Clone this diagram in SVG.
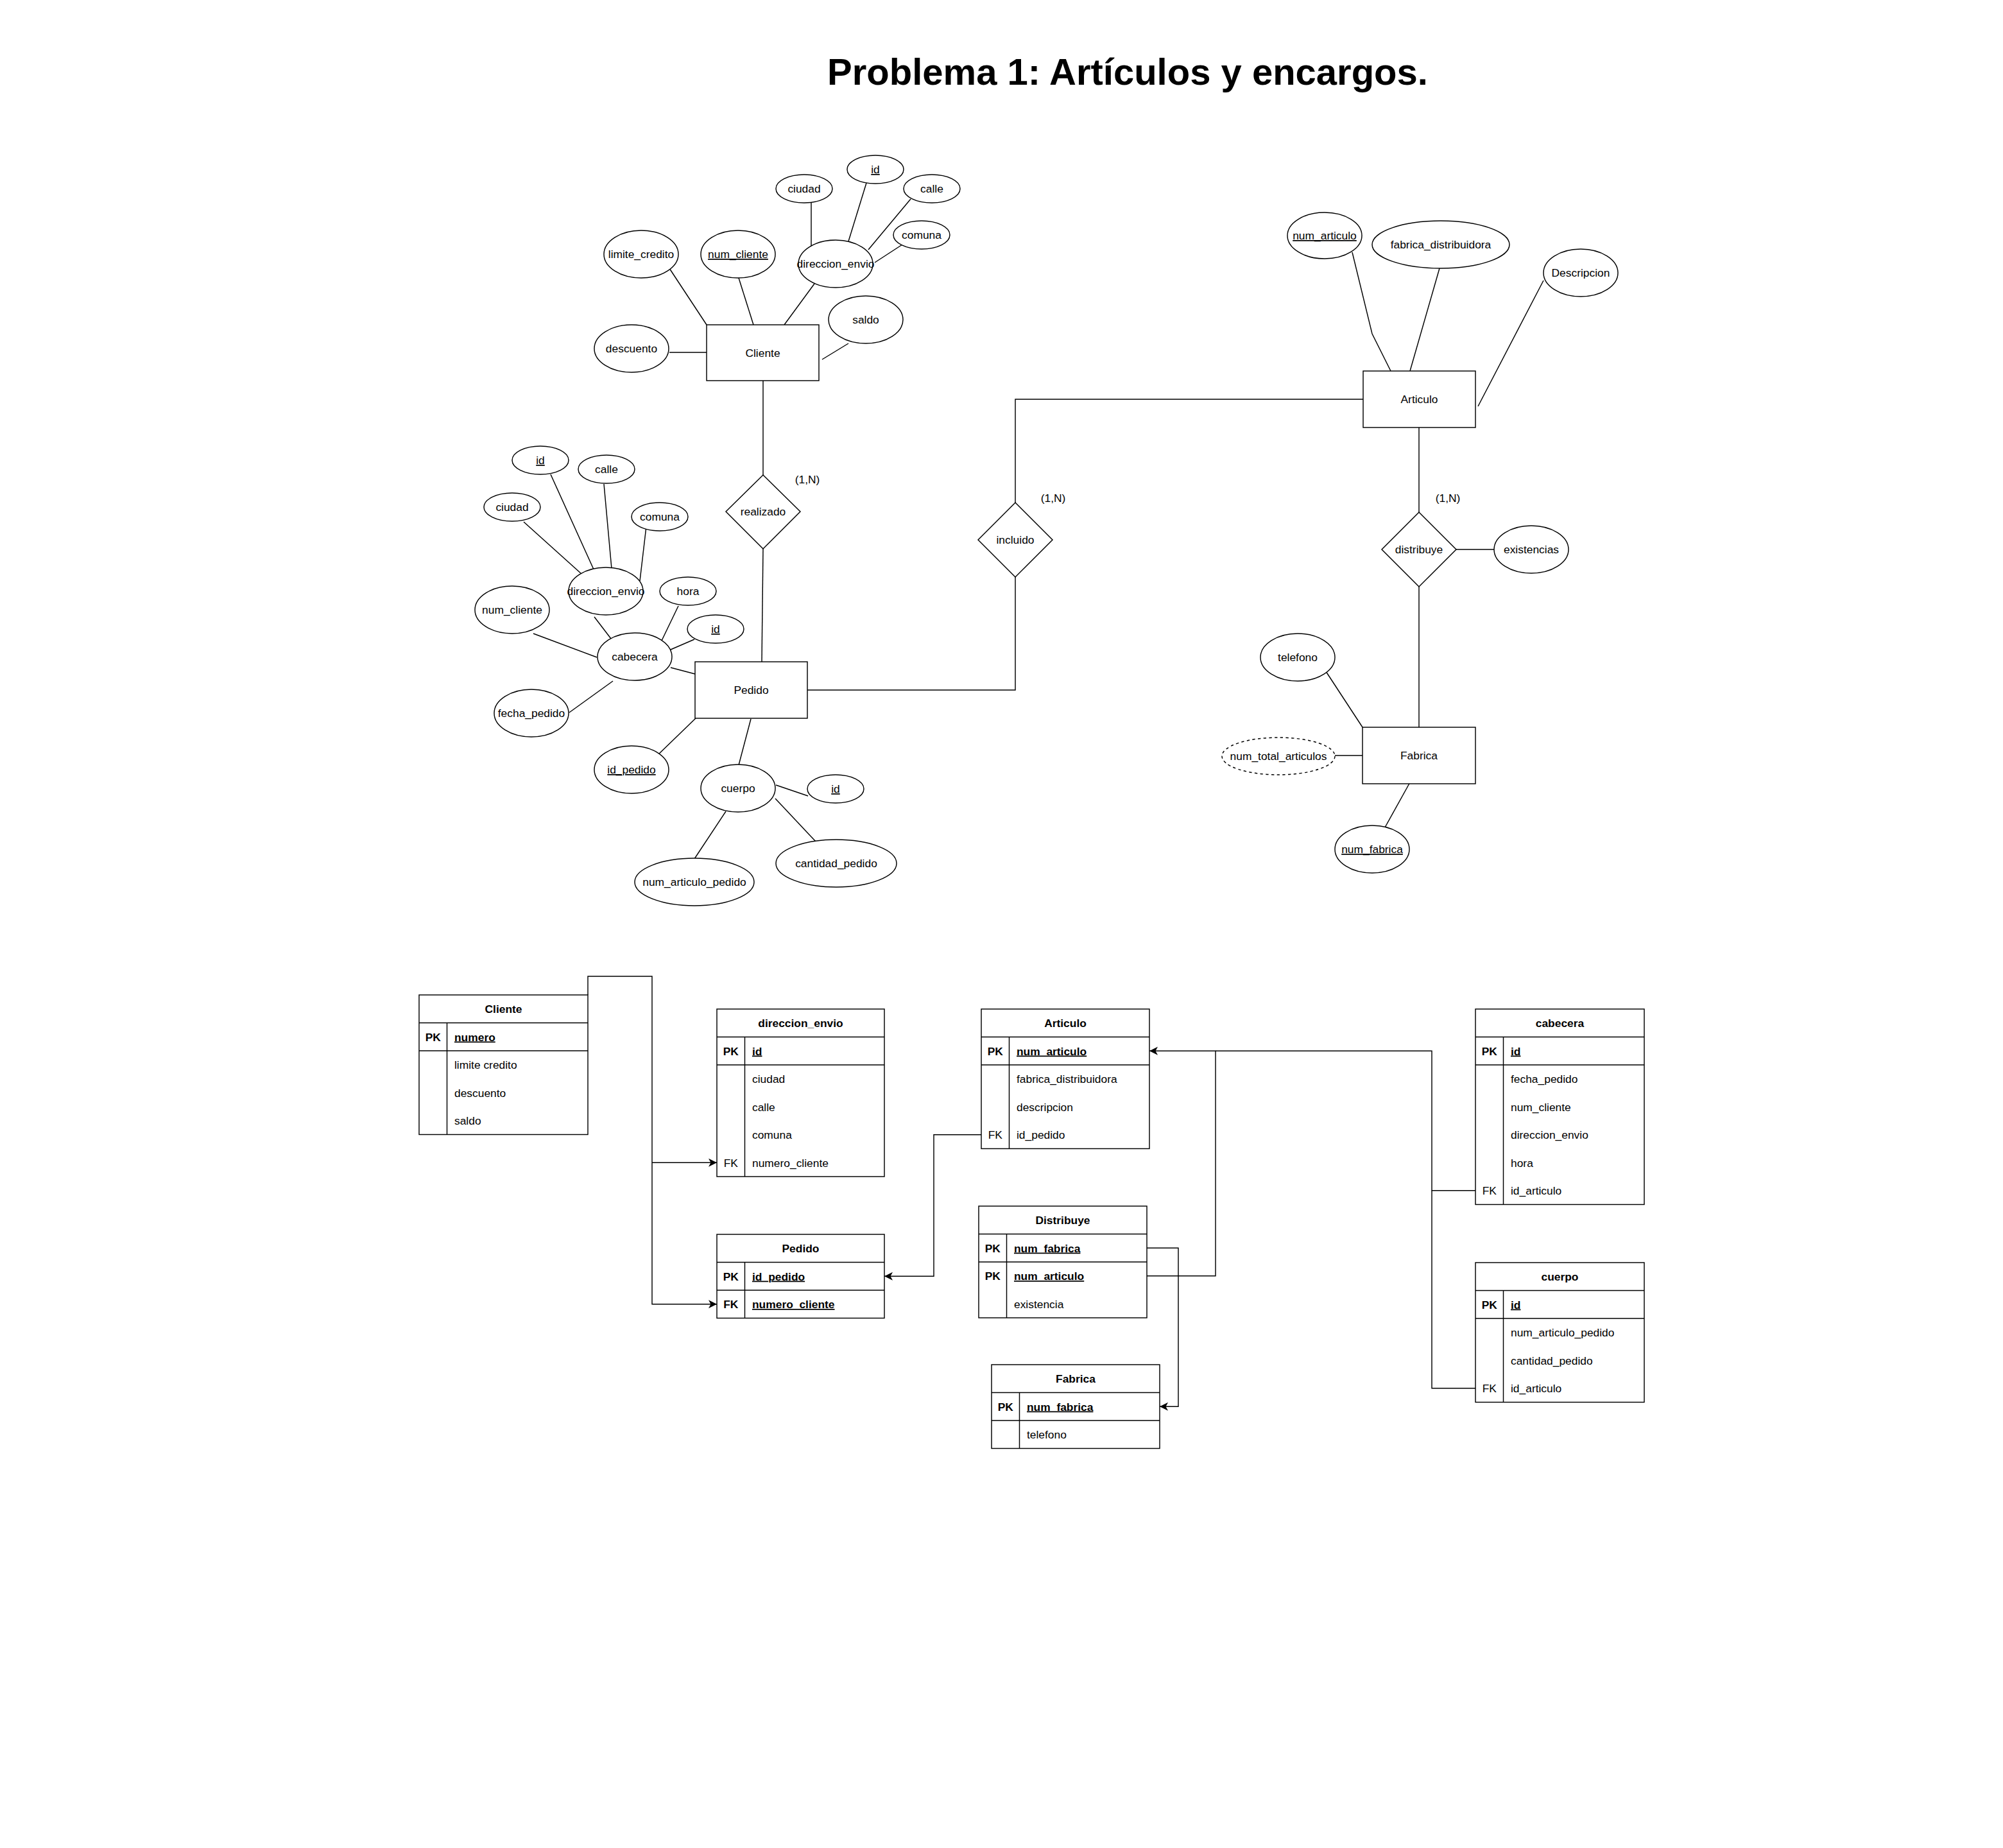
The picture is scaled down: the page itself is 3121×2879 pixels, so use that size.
<svg xmlns="http://www.w3.org/2000/svg" width="3121" height="2879" viewBox="0 0 3121 2879">
<style>
.t{font-family:"Liberation Sans",Arial,sans-serif;font-size:17.4px;fill:#000}
.c{text-anchor:middle}
.b{font-weight:bold}
.u{text-decoration:underline}
.sh{fill:#fff;stroke:#000;stroke-width:1.45}
.ln{fill:none;stroke:#000;stroke-width:1.45}
.ds{stroke-dasharray:4.35 4.35}
.title{font-family:"Liberation Sans",Arial,sans-serif;font-size:58px;font-weight:bold;fill:#000;text-anchor:middle}
</style>
<defs>
<marker id="arr" markerUnits="userSpaceOnUse" markerWidth="14" markerHeight="14" refX="13" refY="6.5" orient="auto">
<path d="M0,0 L13,6.5 L0,13 L3.5,6.5 Z" fill="#000"/>
</marker>
</defs>
<rect x="0" y="0" width="3121" height="2879" fill="#fff"/>
<text class="title" x="1757" y="132">Problema 1: Artículos y encargos.</text>

<g id="er-connectors">
<path class="ln" d="M1043,418 L1101,506"/>
<path class="ln" d="M1151,433 L1174,506"/>
<path class="ln" d="M1269,442 L1222,506"/>
<path class="ln" d="M1264,313 L1264,383"/>
<path class="ln" d="M1350,285 L1322,376"/>
<path class="ln" d="M1419,310 L1353,389"/>
<path class="ln" d="M1406,381 L1363,409"/>
<path class="ln" d="M1322,535 L1281,560"/>
<path class="ln" d="M1043,549 L1101,549"/>
<path class="ln" d="M1189,593 L1189,740"/>
<path class="ln" d="M1189,855 L1187,1031"/>
<path class="ln" d="M816,813 L906,894"/>
<path class="ln" d="M858,739 L925,887"/>
<path class="ln" d="M941,754 L953,886"/>
<path class="ln" d="M1007,820 L997,905"/>
<path class="ln" d="M926,961 L952,995"/>
<path class="ln" d="M1057,944 L1031,998"/>
<path class="ln" d="M1082,996 L1045,1012"/>
<path class="ln" d="M831,987 L930,1024"/>
<path class="ln" d="M1045,1040 L1083,1050"/>
<path class="ln" d="M955,1061 L887,1110"/>
<path class="ln" d="M1084,1119 L1023,1178"/>
<path class="ln" d="M1170,1120 L1151,1192"/>
<path class="ln" d="M1209,1223 L1259,1240"/>
<path class="ln" d="M1131,1264 L1082,1338"/>
<path class="ln" d="M1208,1244 L1271,1311"/>
<path class="ln" d="M1258,1075 L1582,1075 L1582,899"/>
<path class="ln" d="M1582,783 L1582,622 L2124,622"/>
<path class="ln" d="M2107,393 L2138,520 L2167,578"/>
<path class="ln" d="M2243,418 L2197,578"/>
<path class="ln" d="M2405,437 L2303,633"/>
<path class="ln" d="M2211,666 L2211,798"/>
<path class="ln" d="M2269,856 L2328,856"/>
<path class="ln" d="M2211,914 L2211,1133"/>
<path class="ln" d="M2066,1046 L2123,1133"/>
<path class="ln" d="M2080,1177 L2123,1177"/>
<path class="ln" d="M2198,1217 L2158,1289"/>
</g>

<g id="er-cliente"><rect class="sh" x="1101" y="506" width="175" height="87"/><text class="t c" x="1188.5" y="555.5">Cliente</text></g>
<g id="er-pedido"><rect class="sh" x="1083" y="1031" width="175" height="88"/><text class="t c" x="1170.5" y="1081">Pedido</text></g>
<g id="er-articulo"><rect class="sh" x="2124" y="578" width="175" height="88"/><text class="t c" x="2211.5" y="628">Articulo</text></g>
<g id="er-fabrica"><rect class="sh" x="2123" y="1133" width="176" height="88"/><text class="t c" x="2211" y="1183">Fabrica</text></g>

<g id="er-realizado"><path class="sh" d="M1189,740 L1247,797 L1189,855 L1131,797 Z"/><text class="t c" x="1189" y="803">realizado</text></g>
<g id="er-incluido"><path class="sh" d="M1582,783 L1640,841 L1582,899 L1524,841 Z"/><text class="t c" x="1582" y="847">incluido</text></g>
<g id="er-distribuye"><path class="sh" d="M2211,798 L2269,856 L2211,914 L2153,856 Z"/><text class="t c" x="2211" y="862">distribuye</text></g>

<g id="card-1"><text class="t c" x="1258" y="753">(1,N)</text></g>
<g id="card-2"><text class="t c" x="1641" y="782">(1,N)</text></g>
<g id="card-3"><text class="t c" x="2256" y="782">(1,N)</text></g>

<g id="a-cli-ciudad"><ellipse class="sh" cx="1253" cy="294" rx="44" ry="22"/><text class="t c" x="1253" y="300">ciudad</text></g>
<g id="a-cli-id"><ellipse class="sh" cx="1364" cy="264" rx="44" ry="22"/><text class="t c u" x="1364" y="270">id</text></g>
<g id="a-cli-calle"><ellipse class="sh" cx="1452" cy="294" rx="44" ry="22"/><text class="t c" x="1452" y="300">calle</text></g>
<g id="a-cli-comuna"><ellipse class="sh" cx="1436" cy="366" rx="44" ry="22"/><text class="t c" x="1436" y="372">comuna</text></g>
<g id="a-cli-dir"><ellipse class="sh" cx="1302" cy="411" rx="58" ry="37"/><text class="t c" x="1302" y="417">direccion_envio</text></g>
<g id="a-cli-limite"><ellipse class="sh" cx="999" cy="396" rx="58" ry="37"/><text class="t c" x="999" y="402">limite_credito</text></g>
<g id="a-cli-num"><ellipse class="sh" cx="1150" cy="396" rx="58" ry="37"/><text class="t c u" x="1150" y="402">num_cliente</text></g>
<g id="a-cli-saldo"><ellipse class="sh" cx="1349" cy="498" rx="58" ry="37"/><text class="t c" x="1349" y="504">saldo</text></g>
<g id="a-cli-desc"><ellipse class="sh" cx="984" cy="543" rx="58" ry="37"/><text class="t c" x="984" y="549">descuento</text></g>

<g id="a-ped-id"><ellipse class="sh" cx="842" cy="717" rx="44" ry="22"/><text class="t c u" x="842" y="723">id</text></g>
<g id="a-ped-calle"><ellipse class="sh" cx="945" cy="731" rx="44" ry="22"/><text class="t c" x="945" y="737">calle</text></g>
<g id="a-ped-ciudad"><ellipse class="sh" cx="798" cy="790" rx="44" ry="22"/><text class="t c" x="798" y="796">ciudad</text></g>
<g id="a-ped-comuna"><ellipse class="sh" cx="1028" cy="805" rx="44" ry="22"/><text class="t c" x="1028" y="811">comuna</text></g>
<g id="a-ped-dir"><ellipse class="sh" cx="944" cy="921" rx="58" ry="37"/><text class="t c" x="944" y="927">direccion_envio</text></g>
<g id="a-ped-hora"><ellipse class="sh" cx="1072" cy="921" rx="44" ry="22"/><text class="t c" x="1072" y="927">hora</text></g>
<g id="a-ped-numcli"><ellipse class="sh" cx="798" cy="950" rx="58" ry="37"/><text class="t c" x="798" y="956">num_cliente</text></g>
<g id="a-ped-id2"><ellipse class="sh" cx="1115" cy="980" rx="44" ry="22"/><text class="t c u" x="1115" y="986">id</text></g>
<g id="a-ped-cab"><ellipse class="sh" cx="989" cy="1023" rx="58" ry="37"/><text class="t c" x="989" y="1029">cabecera</text></g>
<g id="a-ped-fecha"><ellipse class="sh" cx="828" cy="1111" rx="58" ry="37"/><text class="t c" x="828" y="1117">fecha_pedido</text></g>
<g id="a-ped-idped"><ellipse class="sh" cx="984" cy="1199" rx="58" ry="37"/><text class="t c u" x="984" y="1205">id_pedido</text></g>
<g id="a-ped-cuerpo"><ellipse class="sh" cx="1150" cy="1228" rx="58" ry="37"/><text class="t c" x="1150" y="1234">cuerpo</text></g>
<g id="a-ped-id3"><ellipse class="sh" cx="1302" cy="1229" rx="44" ry="22"/><text class="t c u" x="1302" y="1235">id</text></g>
<g id="a-ped-numart"><ellipse class="sh" cx="1082" cy="1374" rx="93" ry="37"/><text class="t c" x="1082" y="1380">num_articulo_pedido</text></g>
<g id="a-ped-cant"><ellipse class="sh" cx="1303" cy="1345" rx="94" ry="37"/><text class="t c" x="1303" y="1351">cantidad_pedido</text></g>

<g id="a-art-num"><ellipse class="sh" cx="2064" cy="367" rx="58" ry="36"/><text class="t c u" x="2064" y="373">num_articulo</text></g>
<g id="a-art-fab"><ellipse class="sh" cx="2245" cy="381" rx="107" ry="37"/><text class="t c" x="2245" y="387">fabrica_distribuidora</text></g>
<g id="a-art-desc"><ellipse class="sh" cx="2463" cy="425" rx="58" ry="37"/><text class="t c" x="2463" y="431">Descripcion</text></g>
<g id="a-dis-exist"><ellipse class="sh" cx="2386" cy="856" rx="58" ry="37"/><text class="t c" x="2386" y="862">existencias</text></g>
<g id="a-fab-tel"><ellipse class="sh" cx="2022" cy="1024" rx="58" ry="37"/><text class="t c" x="2022" y="1030">telefono</text></g>
<g id="a-fab-total"><ellipse class="sh ds" cx="1992" cy="1178" rx="88" ry="29"/><text class="t c" x="1992" y="1184">num_total_articulos</text></g>
<g id="a-fab-num"><ellipse class="sh" cx="2138" cy="1323" rx="58" ry="37"/><text class="t c u" x="2138" y="1329">num_fabrica</text></g>

<g id="table-connectors">
<path class="ln" d="M916,1550 V1521 H1016 V2031.75 H1117" marker-end="url(#arr)"/>
<path class="ln" d="M1016,1811.25 H1117" marker-end="url(#arr)"/>
<path class="ln" d="M1529,1767.75 H1455 V1988.25 H1378" marker-end="url(#arr)"/>
<path class="ln" d="M1787,1987.75 H1894 V1637.25 H1791" marker-end="url(#arr)"/>
<path class="ln" d="M2299,1854.75 H2231 V1637.25 H1894"/>
<path class="ln" d="M2299,2162.75 H2231 V1854.75"/>
<path class="ln" d="M1787,1944.25 H1836 V2191.25 H1807" marker-end="url(#arr)"/>
</g>

<g id="t-cliente">
<rect class="sh" x="653" y="1550" width="263" height="217.5"/>
<path class="ln" d="M653,1593.5 H916 M653,1637 H916 M696.5,1593.5 V1767.5"/>
<text class="t c b" x="784.5" y="1578">Cliente</text>
<text class="t c b" x="674.75" y="1621.5">PK</text><text class="t b u" x="708" y="1621.5">numero</text>
<text class="t" x="708" y="1665">limite credito</text>
<text class="t" x="708" y="1708.5">descuento</text>
<text class="t" x="708" y="1752">saldo</text>
</g>

<g id="t-direccion_envio">
<rect class="sh" x="1117" y="1572" width="261" height="261"/>
<path class="ln" d="M1117,1615.5 H1378 M1117,1659 H1378 M1160.5,1615.5 V1833"/>
<text class="t c b" x="1247.5" y="1600">direccion_envio</text>
<text class="t c b" x="1138.75" y="1643.5">PK</text><text class="t b u" x="1172" y="1643.5">id</text>
<text class="t" x="1172" y="1687">ciudad</text>
<text class="t" x="1172" y="1730.5">calle</text>
<text class="t" x="1172" y="1774">comuna</text>
<text class="t c" x="1138.75" y="1817.5">FK</text><text class="t" x="1172" y="1817.5">numero_cliente</text>
</g>

<g id="t-pedido">
<rect class="sh" x="1117" y="1923" width="261" height="130.5"/>
<path class="ln" d="M1117,1966.5 H1378 M1117,2010 H1378 M1160.5,1966.5 V2053.5"/>
<text class="t c b" x="1247.5" y="1951">Pedido</text>
<text class="t c b" x="1138.75" y="1994.5">PK</text><text class="t b u" x="1172" y="1994.5">id_pedido</text>
<text class="t c b" x="1138.75" y="2038">FK</text><text class="t b u" x="1172" y="2038">numero_cliente</text>
</g>

<g id="t-articulo">
<rect class="sh" x="1529" y="1572" width="262" height="217.5"/>
<path class="ln" d="M1529,1615.5 H1791 M1529,1659 H1791 M1572.5,1615.5 V1789.5"/>
<text class="t c b" x="1660" y="1600">Articulo</text>
<text class="t c b" x="1550.75" y="1643.5">PK</text><text class="t b u" x="1584" y="1643.5">num_articulo</text>
<text class="t" x="1584" y="1687">fabrica_distribuidora</text>
<text class="t" x="1584" y="1730.5">descripcion</text>
<text class="t c" x="1550.75" y="1774">FK</text><text class="t" x="1584" y="1774">id_pedido</text>
</g>

<g id="t-distribuye">
<rect class="sh" x="1525" y="1879" width="262" height="174"/>
<path class="ln" d="M1525,1922.5 H1787 M1525,1966 H1787 M1568.5,1922.5 V2053"/>
<text class="t c b" x="1656" y="1907">Distribuye</text>
<text class="t c b" x="1546.75" y="1950.5">PK</text><text class="t b u" x="1580" y="1950.5">num_fabrica</text>
<text class="t c b" x="1546.75" y="1994">PK</text><text class="t b u" x="1580" y="1994">num_articulo</text>
<text class="t" x="1580" y="2037.5">existencia</text>
</g>

<g id="t-fabrica">
<rect class="sh" x="1545" y="2126" width="262" height="130.5"/>
<path class="ln" d="M1545,2169.5 H1807 M1545,2213 H1807 M1588.5,2169.5 V2256.5"/>
<text class="t c b" x="1676" y="2154">Fabrica</text>
<text class="t c b" x="1566.75" y="2197.5">PK</text><text class="t b u" x="1600" y="2197.5">num_fabrica</text>
<text class="t" x="1600" y="2241">telefono</text>
</g>

<g id="t-cabecera">
<rect class="sh" x="2299" y="1572" width="263" height="304.5"/>
<path class="ln" d="M2299,1615.5 H2562 M2299,1659 H2562 M2342.5,1615.5 V1876.5"/>
<text class="t c b" x="2430.5" y="1600">cabecera</text>
<text class="t c b" x="2320.75" y="1643.5">PK</text><text class="t b u" x="2354" y="1643.5">id</text>
<text class="t" x="2354" y="1687">fecha_pedido</text>
<text class="t" x="2354" y="1730.5">num_cliente</text>
<text class="t" x="2354" y="1774">direccion_envio</text>
<text class="t" x="2354" y="1817.5">hora</text>
<text class="t c" x="2320.75" y="1861">FK</text><text class="t" x="2354" y="1861">id_articulo</text>
</g>

<g id="t-cuerpo">
<rect class="sh" x="2299" y="1967" width="263" height="217.5"/>
<path class="ln" d="M2299,2010.5 H2562 M2299,2054 H2562 M2342.5,2010.5 V2184.5"/>
<text class="t c b" x="2430.5" y="1995">cuerpo</text>
<text class="t c b" x="2320.75" y="2038.5">PK</text><text class="t b u" x="2354" y="2038.5">id</text>
<text class="t" x="2354" y="2082">num_articulo_pedido</text>
<text class="t" x="2354" y="2125.5">cantidad_pedido</text>
<text class="t c" x="2320.75" y="2169">FK</text><text class="t" x="2354" y="2169">id_articulo</text>
</g>
</svg>
